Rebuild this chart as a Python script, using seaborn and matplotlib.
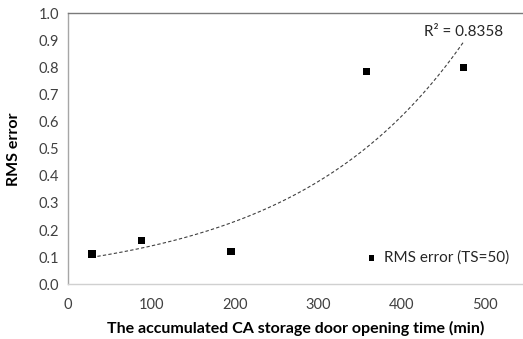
import numpy as np
import pandas as pd
import matplotlib
matplotlib.use("Agg")
import matplotlib.pyplot as plt
import seaborn as sns

# Accumulated CA storage door opening time (min) and RMS error
door_time = [29, 88.6, 195.6, 358, 474]
rms_error = [0.112, 0.162, 0.120, 0.785, 0.799]
series_label = "RMS error (TS=50)"
r_squared = 0.8358
x_ticks = [0, 100, 200, 300, 400, 500]
y_ticks = [0.0, 0.1, 0.2, 0.3, 0.4, 0.5, 0.6, 0.7, 0.8, 0.9, 1.0]

df = pd.DataFrame({"time": door_time, "rms": rms_error})

sns.set_theme(style="white")
plt.rcParams["font.family"] = ["Lato", "DejaVu Sans"]

fig = plt.figure(figsize=(5.23, 3.39), dpi=100)
ax = fig.add_axes([0.1294, 0.1614, 0.8706, 0.7994])

# Exponential trend line y = a * exp(b x), fitted on log(y)
b, ln_a = np.polyfit(df["time"], np.log(df["rms"]), 1)
xs = np.linspace(min(door_time), max(door_time), 200)
ax.plot(xs, np.exp(ln_a) * np.exp(b * xs), color="#404040", lw=0.8,
        ls=(0, (3, 2)), zorder=2)

sns.scatterplot(data=df, x="time", y="rms", marker="s", s=27, color="black",
                edgecolor="none", ax=ax, label=series_label, zorder=3)

ax.text(474, 0.905, f"R² = {r_squared:.4f}", fontsize=11, color="#262626",
        ha="center", va="bottom")

ax.set_xlim(0, 545)
ax.set_ylim(0, 1.0)
ax.set_xticks(x_ticks)
ax.set_yticks(y_ticks)
ax.set_yticklabels([f"{v:.1f}" for v in y_ticks])
ax.tick_params(axis="both", labelsize=10.5, colors="#404040", length=0, pad=6)
ax.tick_params(axis="x", pad=10)

ax.set_xlabel("The accumulated CA storage door opening time (min)",
              fontsize=11.5, fontweight="bold", color="black", labelpad=6)
ax.set_ylabel("RMS error", fontsize=11.5, fontweight="bold", color="black",
              labelpad=13)

ax.spines["left"].set_color("#a6a6a6")
ax.spines["top"].set_color("#7a7a7a")
ax.spines["bottom"].set_color("#d0d0d0")
ax.spines["right"].set_visible(False)
for s in ax.spines.values():
    s.set_linewidth(1.0)

leg = ax.legend(loc="lower right", frameon=False, fontsize=11,
                handletextpad=0.3, markerscale=0.75, handlelength=1.0,
                bbox_to_anchor=(1.0, 0.02))
for t in leg.get_texts():
    t.set_color("#262626")

fig.savefig("out.png", dpi=100)
